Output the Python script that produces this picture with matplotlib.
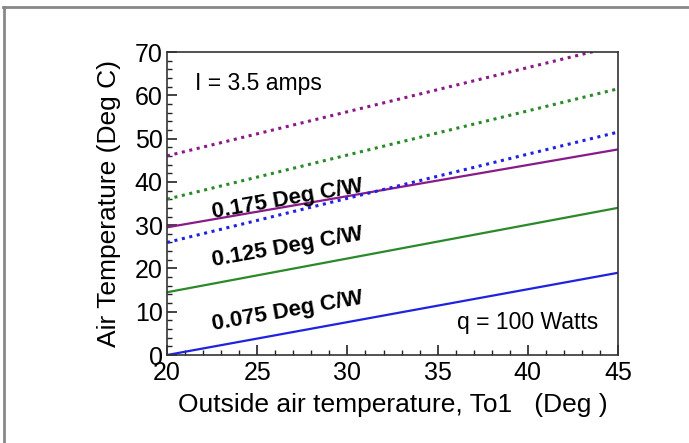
import matplotlib.pyplot as plt
from matplotlib.lines import Line2D
from matplotlib.ticker import MultipleLocator

plt.rcParams['font.family'] = ['Liberation Sans', 'DejaVu Sans']

# data
x_ends = [20, 45]
solid_075 = [0, 19]
solid_125 = [14.5, 34]
solid_175 = [29.5, 47.5]
dotted_blue = [26, 51.5]
dotted_green = [36, 61.5]
dotted_purple = [46, 71.5]

blue = '#1f22e0'
green = '#2a8a2a'
purple = '#8a1a8a'

fig = plt.figure(figsize=(6.89, 4.43), dpi=100)
ax = fig.add_axes([0.2424, 0.1986, 0.6546, 0.684])

ax.plot(x_ends, solid_075, color=blue, lw=1.6)
ax.plot(x_ends, solid_125, color=green, lw=1.6)
ax.plot(x_ends, solid_175, color=purple, lw=1.6)
dots = (0, (1, 1.5))
ax.plot(x_ends, dotted_blue, color=blue, lw=2.2, linestyle=dots)
ax.plot(x_ends, dotted_green, color=green, lw=2.2, linestyle=dots)
ax.plot(x_ends, dotted_purple, color=purple, lw=2.2, linestyle=dots)

ax.set_xlim(20, 45)
ax.set_ylim(0, 70)
ax.xaxis.set_major_locator(MultipleLocator(5))
ax.xaxis.set_minor_locator(MultipleLocator(1))
ax.yaxis.set_major_locator(MultipleLocator(10))
ax.yaxis.set_minor_locator(MultipleLocator(2))
ax.tick_params(which='both', direction='in', top=False, right=False,
               labelsize=18, color='#222222')
ax.tick_params(axis='x', which='major', pad=4)
ax.tick_params(axis='y', which='major', pad=3)
ax.tick_params(which='major', length=7, width=1.2)
ax.tick_params(which='minor', length=3.5, width=1.0)
for s in ax.spines.values():
    s.set_color('#333333')
    s.set_linewidth(1.2)

ax.set_xlabel('Outside air temperature, To1   (Deg )', fontsize=19, labelpad=6)
ax.set_ylabel('Air Temperature (Deg C)', fontsize=19, labelpad=10)

ax.text(21.55, 62.8, 'I = 3.5 amps', fontsize=16.5, ha='left', va='center')
ax.text(43.9, 7.6, 'q = 100 Watts', fontsize=16.5, ha='right', va='center')

lab_kw = dict(fontsize=16, fontweight='bold', rotation=10,
              ha='center', va='center', rotation_mode='anchor')
ax.text(26.7, 36.0, '0.175 Deg C/W', **lab_kw)
ax.text(26.7, 24.8, '0.125 Deg C/W', **lab_kw)
ax.text(26.7, 10.0, '0.075 Deg C/W', **lab_kw)

# partial frame around the figure (top and left edges)
fig.add_artist(Line2D([0.005, 1.0], [0.984, 0.984], color='#888888', lw=2,
                      transform=fig.transFigure))
fig.add_artist(Line2D([0.006, 0.006], [0.0, 0.984], color='#888888', lw=2,
                      transform=fig.transFigure))

fig.savefig('out.png', dpi=100)
